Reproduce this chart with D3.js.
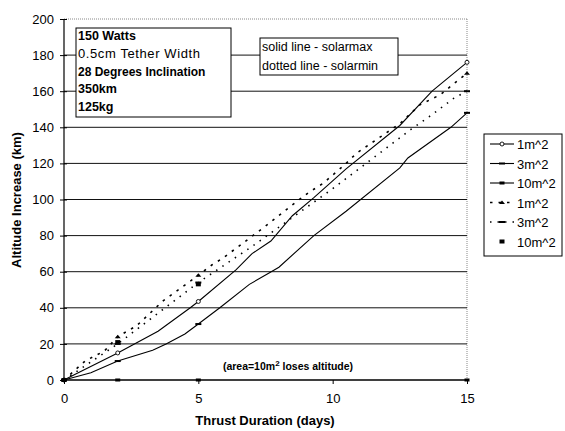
<!DOCTYPE html>
<html><head><meta charset="utf-8">
<script src="https://cdn.jsdelivr.net/npm/d3@7/dist/d3.min.js"></script>
<style>body{margin:0;background:#fff}svg{display:block}text{font-family:"Liberation Sans",Arial,sans-serif}</style>
</head><body><svg id="c" width="565" height="431"></svg>
<script>
// ---- data ----
const xTicks = [0, 5, 10, 15];
const yTicks = [0, 20, 40, 60, 80, 100, 120, 140, 160, 180, 200];
const seriesNames = ["1m^2", "3m^2", "10m^2", "1m^2", "3m^2", "10m^2"];
// solar max (solid)
const maxDays1 = [0, 0.4, 2, 3.5, 4.7, 5, 6.4, 7, 7.7, 8.5, 9.3, 10.5, 12.5, 13.7, 15];
const maxAlt1  = [0, 3, 15, 27, 40, 43.5, 61, 70, 77, 91, 101, 117, 141, 160, 176];
const maxDays3 = [0, 1, 2, 3.3, 3.8, 4.5, 5, 5.8, 6.9, 7.6, 8, 9.3, 10.5, 12.5, 12.8, 14.4, 15];
const maxAlt3  = [0, 4, 10.5, 16.5, 20, 25.5, 31, 40, 53, 59, 62.5, 80, 93.5, 117.5, 123, 140, 148];
const maxDays10 = [0, 2, 5, 15];
const maxAlt10  = [0, 0, 0, 0];
// solar min (dotted)
const minDays1 = [0, 0.8, 1.5, 2, 2.7, 3.7, 4.5, 5, 5.5, 5.9, 6.5, 7.6, 8.6, 9.1, 9.65, 10.5, 10.9, 12.5, 13.25, 14, 15];
const minAlt1  = [0, 10.7, 16, 24, 30, 44, 52.6, 58, 63.7, 67.4, 74, 86.4, 98.2, 103.8, 109, 120, 125.8, 142, 152.5, 158, 170];
const minDays3 = [0, 2, 3.5, 5, 7, 8.5, 10, 11.6, 12.9, 13.7, 14.5, 15];
const minAlt3  = [0, 20, 37, 54, 74, 90, 106, 124, 138.7, 147, 156, 160];
const minDays10 = [0, 2, 5];
const minAlt10  = [0, 21, 53];
const markerDays = [0, 2, 5, 15];

const svg = d3.select("#c");
const x = d3.scaleLinear().domain([0, 15]).range([64, 467]);
const y = d3.scaleLinear().domain([0, 200]).range([380, 19]);

// plot border (dotted top/right)
svg.append("line").attr("x1", x(0)).attr("x2", x(15)).attr("y1", y(200)).attr("y2", y(200))
  .attr("stroke", "#888").attr("stroke-dasharray", "1,1");
svg.append("line").attr("x1", x(15)).attr("x2", x(15)).attr("y1", y(200)).attr("y2", y(0))
  .attr("stroke", "#888").attr("stroke-dasharray", "1,1");

// gridlines
svg.append("g").selectAll("line").data(yTicks.filter(v => v > 0 && v < 200)).join("line")
  .attr("x1", x(0)).attr("x2", x(15)).attr("y1", d => y(d)).attr("y2", d => y(d))
  .attr("stroke", "#111").attr("stroke-width", 1);

// axes
const yAxis = d3.axisLeft(y).tickValues(yTicks).tickSize(4).tickPadding(6);
const gy = svg.append("g").attr("transform", `translate(${x(0)},0)`).call(yAxis);
gy.selectAll("line").attr("stroke", "#000").attr("x2", -4).attr("x1", 3);
const xAxis = d3.axisBottom(x).tickValues(xTicks).tickSize(4).tickPadding(10);
const gx = svg.append("g").attr("transform", `translate(0,${y(0)})`).call(xAxis);
[gy, gx].forEach(g => {
  g.select(".domain").attr("stroke", "#000").attr("stroke-width", 1.2);
  g.selectAll("text").attr("font-size", 13).attr("fill", "#000")
   .style("font-family", '"Liberation Sans",Arial,sans-serif');
});
gy.select(".domain").attr("d", `M0,${y(200)}V${y(0)}`);
gx.select(".domain").attr("d", `M${x(0)},0H${x(15)}`);

// axis titles
svg.append("text").attr("x", 265).attr("y", 425).attr("text-anchor", "middle")
  .attr("font-size", 13).attr("font-weight", "bold").text("Thrust Duration (days)");
svg.append("text").attr("transform", "translate(21,200) rotate(-90)").attr("text-anchor", "middle")
  .attr("font-size", 13).attr("font-weight", "bold").text("Altitude Increase (km)");

// series
const line = d3.line().x(d => x(d[0])).y(d => y(d[1]));
const zip = (a, b) => a.map((d, i) => [d, b[i]]);
const series = [
  {d: zip(maxDays1, maxAlt1), dash: null, m: "circle"},
  {d: zip(maxDays3, maxAlt3), dash: null, m: "dash"},
  {d: zip(maxDays10, maxAlt10), dash: null, m: "rect"},
  {d: zip(minDays1, minAlt1), dash: "2.5,6", m: "tri"},
  {d: zip(minDays3, minAlt3), dash: "1.5,6", m: "dash"},
  {d: zip(minDays10, minAlt10), dash: "none", m: "square"}
];
function marker(g, type, cx, cy) {
  if (type === "circle") g.append("circle").attr("cx", cx).attr("cy", cy).attr("r", 2)
      .attr("fill", "#fff").attr("stroke", "#000").attr("stroke-width", 0.9);
  else if (type === "dash") g.append("rect").attr("x", cx - 3).attr("y", cy - 1).attr("width", 6).attr("height", 2).attr("fill", "#000");
  else if (type === "rect") g.append("rect").attr("x", cx - 2.5).attr("y", cy - 1.5).attr("width", 5).attr("height", 3).attr("fill", "#000");
  else if (type === "tri") g.append("path").attr("d", `M${cx-3},${cy+1.5}L${cx+3},${cy+1.5}L${cx},${cy-2}Z`).attr("fill", "#000");
  else if (type === "square") g.append("rect").attr("x", cx - 2.5).attr("y", cy - 2).attr("width", 5).attr("height", 4).attr("fill", "#000");
}
series.forEach(s => {
  if (s.dash !== "none") {
    svg.append("path").datum(s.d).attr("d", line).attr("fill", "none").attr("stroke", "#000")
      .attr("stroke-width", s.dash ? 1.6 : 1.1).attr("stroke-dasharray", s.dash);
  }
  const g = svg.append("g");
  s.d.filter(p => markerDays.includes(p[0])).forEach(p => marker(g, s.m, x(p[0]), y(p[1])));
});

// annotation
const ann = svg.append("text").attr("x", 288).attr("y", 370).attr("text-anchor", "middle")
  .attr("font-size", 10.5).attr("font-weight", "bold");
ann.append("tspan").text("(area=10m");
ann.append("tspan").attr("dy", -4).attr("font-size", 8).text("2");
ann.append("tspan").attr("dy", 4).text(" loses altitude)");

// info box 1
svg.append("rect").attr("x", 76).attr("y", 28).attr("width", 155).attr("height", 89)
  .attr("fill", "#fff").attr("stroke", "#000");
const info = [["150 Watts", "bold", 12.5, 0], ["0.5cm Tether Width", "normal", 13, 0.6], ["28 Degrees Inclination", "bold", 12, 0], ["350km", "bold", 12.5, 0], ["125kg", "bold", 12.5, 0]];
info.forEach((t, i) => svg.append("text").attr("x", 78).attr("y", 40 + i * 17.8)
  .attr("font-size", t[2]).attr("font-weight", t[1]).attr("letter-spacing", t[3]).text(t[0]));

// info box 2
svg.append("rect").attr("x", 260).attr("y", 38).attr("width", 138).attr("height", 37)
  .attr("fill", "#fff").attr("stroke", "#000");
["solid line - solarmax", "dotted line - solarmin"].forEach((t, i) =>
  svg.append("text").attr("x", 262).attr("y", 51 + i * 19).attr("font-size", 12.5).text(t));

// legend
svg.append("rect").attr("x", 484).attr("y", 134).attr("width", 78).attr("height", 122)
  .attr("fill", "#fff").attr("stroke", "#000");
seriesNames.forEach((n, i) => {
  const cy = 144 + i * 19.5;
  const s = series[i];
  if (s.dash !== "none") svg.append("line").attr("x1", 490).attr("x2", 514).attr("y1", cy).attr("y2", cy)
    .attr("stroke", "#000").attr("stroke-width", s.dash ? 1.6 : 1.1).attr("stroke-dasharray", s.dash);
  marker(svg, s.m, 502, cy);
  svg.append("text").attr("x", 517).attr("y", cy + 5).attr("font-size", 13).text(n);
});
</script></body></html>
